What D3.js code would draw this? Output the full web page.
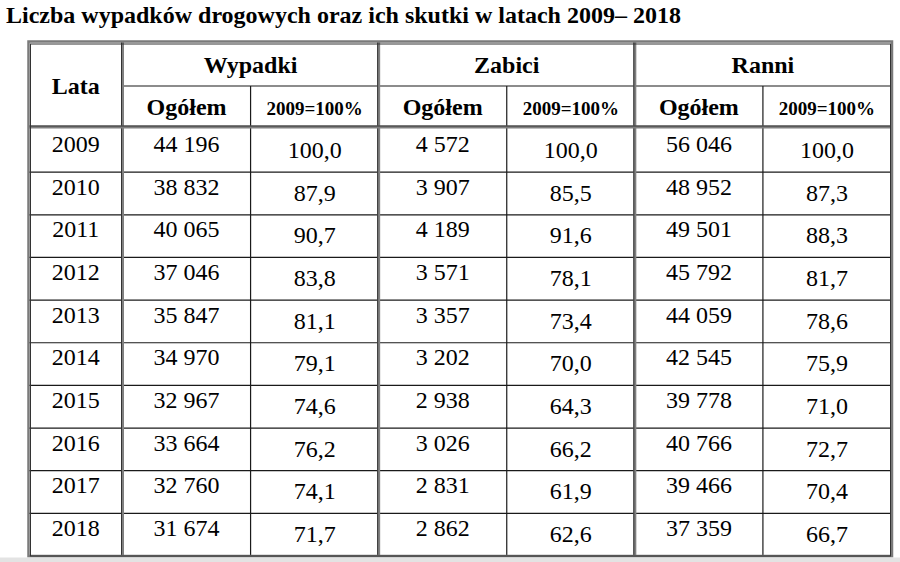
<!DOCTYPE html>
<html>
<head>
<meta charset="utf-8">
<script src="https://cdn.jsdelivr.net/npm/d3@7"></script>
<style>
  body { margin: 0; background: #fff; }
  svg { display: block; }
</style>
</head>
<body>
<div class="container"></div>
<script>
// table values
const years = [2009, 2010, 2011, 2012, 2013, 2014, 2015, 2016, 2017, 2018];
const wypadki = [44196, 38832, 40065, 37046, 35847, 34970, 32967, 33664, 32760, 31674];
const wypadkiPct = [100.0, 87.9, 90.7, 83.8, 81.1, 79.1, 74.6, 76.2, 74.1, 71.7];
const zabici = [4572, 3907, 4189, 3571, 3357, 3202, 2938, 3026, 2831, 2862];
const zabiciPct = [100.0, 85.5, 91.6, 78.1, 73.4, 70.0, 64.3, 66.2, 61.9, 62.6];
const ranni = [56046, 48952, 49501, 45792, 44059, 42545, 39778, 40766, 39466, 37359];
const ranniPct = [100.0, 87.3, 88.3, 81.7, 78.6, 75.9, 71.0, 72.7, 70.4, 66.7];

const groups = ["Wypadki", "Zabici", "Ranni"];
const subHeaders = ["Ogółem", "2009=100%"];
const title = "Liczba wypadków drogowych oraz ich skutki w latach 2009– 2018";

const width = 900, height = 562;
const font = "'Liberation Serif', 'Times New Roman', serif";

// polish number formatting
const pl = d3.formatLocale({decimal: ",", thousands: "\u00a0", grouping: [3], currency: ["", " zł"]});
const fmtInt = pl.format(",d");
const fmtPct = pl.format(".1f");

// columns: one per group x sub header
const columns = [];
groups.forEach((g, gi) => subHeaders.forEach((s, si) => columns.push({group: g, sub: s, gi: gi, si: si})));
const colValues = [wypadki, wypadkiPct, zabici, zabiciPct, ranni, ranniPct];

const tableTop = 42, headMid = 86, headBottom = 127, tableBottom = 556;
const tableLeft = 29, lataRight = 122.5, tableRight = 891;

const x = d3.scaleBand()
    .domain(d3.range(columns.length))
    .range([lataRight, tableRight]);

const y = d3.scaleLinear()
    .domain([0, years.length])
    .range([129.5, tableBottom]);

const svg = d3.select(".container")
    .append("svg")
    .attr("width", width)
    .attr("height", height);

// grey strip at the bottom
svg.append("rect")
    .attr("x", 0).attr("y", 557.5)
    .attr("width", width).attr("height", height - 557.5)
    .attr("fill", "#e3e3e3");

svg.append("text")
    .attr("x", 6)
    .attr("y", 23)
    .attr("font-family", font)
    .attr("font-weight", "bold")
    .attr("font-size", "24px")
    .text(title);

const thin = "#1a1a1a";

// horizontal row lines
svg.selectAll(".row-line")
    .data(d3.range(1, years.length))
    .enter()
    .append("line")
    .attr("x1", tableLeft).attr("x2", tableRight)
    .attr("y1", d => y(d)).attr("y2", d => y(d))
    .attr("stroke", thin)
    .attr("stroke-width", 1.2);

// header middle line
svg.append("line")
    .attr("x1", lataRight).attr("x2", tableRight)
    .attr("y1", headMid).attr("y2", headMid)
    .attr("stroke", thin)
    .attr("stroke-width", 1.2);

// split between Ogółem and percent columns
svg.selectAll(".sub-line")
    .data(columns.filter(c => c.si === 1))
    .enter()
    .append("line")
    .attr("x1", (d, i) => x(i * 2 + 1)).attr("x2", (d, i) => x(i * 2 + 1))
    .attr("y1", headMid).attr("y2", tableBottom)
    .attr("stroke", thin)
    .attr("stroke-width", 1.2);

// double group dividers
const dividers = [lataRight, x(2), x(4)];
dividers.forEach(dx => {
    svg.append("line")
        .attr("x1", dx).attr("x2", dx)
        .attr("y1", tableTop).attr("y2", tableBottom)
        .attr("stroke", "#808080").attr("stroke-width", 3);
    svg.append("line")
        .attr("x1", dx - 1).attr("x2", dx - 1)
        .attr("y1", tableTop).attr("y2", tableBottom)
        .attr("stroke", "#333").attr("stroke-width", 1);
});

// double line under header
svg.append("line")
    .attr("x1", tableLeft).attr("x2", tableRight)
    .attr("y1", headBottom).attr("y2", headBottom)
    .attr("stroke", "#808080").attr("stroke-width", 3);
svg.append("line")
    .attr("x1", tableLeft).attr("x2", tableRight)
    .attr("y1", headBottom - 1).attr("y2", headBottom - 1)
    .attr("stroke", "#333").attr("stroke-width", 1);

// outer frame: grey outside, dark inside
svg.append("rect")
    .attr("x", tableLeft - 0.5).attr("y", tableTop - 0.5)
    .attr("width", tableRight - tableLeft + 1.5).attr("height", tableBottom - tableTop + 0.5)
    .attr("fill", "none")
    .attr("stroke", "#7a7a7a").attr("stroke-width", 2.5);
svg.append("rect")
    .attr("x", tableLeft + 1.5).attr("y", tableTop + 2)
    .attr("width", tableRight - tableLeft - 2).attr("height", tableBottom - tableTop - 2)
    .attr("fill", "none")
    .attr("stroke", "#333").attr("stroke-width", 1);

// header texts
svg.append("text")
    .attr("x", (tableLeft + lataRight) / 2)
    .attr("y", 94)
    .attr("text-anchor", "middle")
    .attr("font-family", font)
    .attr("font-weight", "bold")
    .attr("font-size", "24px")
    .text("Lata");

svg.selectAll(".group-label")
    .data(groups)
    .enter()
    .append("text")
    .attr("x", (d, i) => x(i * 2) + x.bandwidth())
    .attr("y", 72.5)
    .attr("text-anchor", "middle")
    .attr("font-family", font)
    .attr("font-weight", "bold")
    .attr("font-size", "24px")
    .text(d => d);

svg.selectAll(".sub-label")
    .data(columns)
    .enter()
    .append("text")
    .attr("x", (d, i) => x(i) + x.bandwidth() / 2)
    .attr("y", d => d.si === 0 ? 115 : 114.5)
    .attr("text-anchor", "middle")
    .attr("font-family", font)
    .attr("font-weight", "bold")
    .attr("font-size", d => d.si === 0 ? "24px" : "19px")
    .text(d => d.sub);

// body: years
svg.selectAll(".year")
    .data(years)
    .enter()
    .append("text")
    .attr("x", (tableLeft + lataRight) / 2)
    .attr("y", (d, i) => y(i) + 22.5)
    .attr("text-anchor", "middle")
    .attr("font-family", font)
    .attr("font-size", "24px")
    .text(d => d);

// body: values
columns.forEach((c, ci) => {
    svg.selectAll(".col-" + ci)
        .data(colValues[ci])
        .enter()
        .append("text")
        .attr("x", x(ci) + x.bandwidth() / 2)
        .attr("y", (d, i) => y(i) + (c.si === 0 ? 22.5 : 28.5))
        .attr("text-anchor", "middle")
        .attr("font-family", font)
        .attr("font-size", "24px")
        .text(d => c.si === 0 ? fmtInt(d) : fmtPct(d));
});
</script>
</body>
</html>
